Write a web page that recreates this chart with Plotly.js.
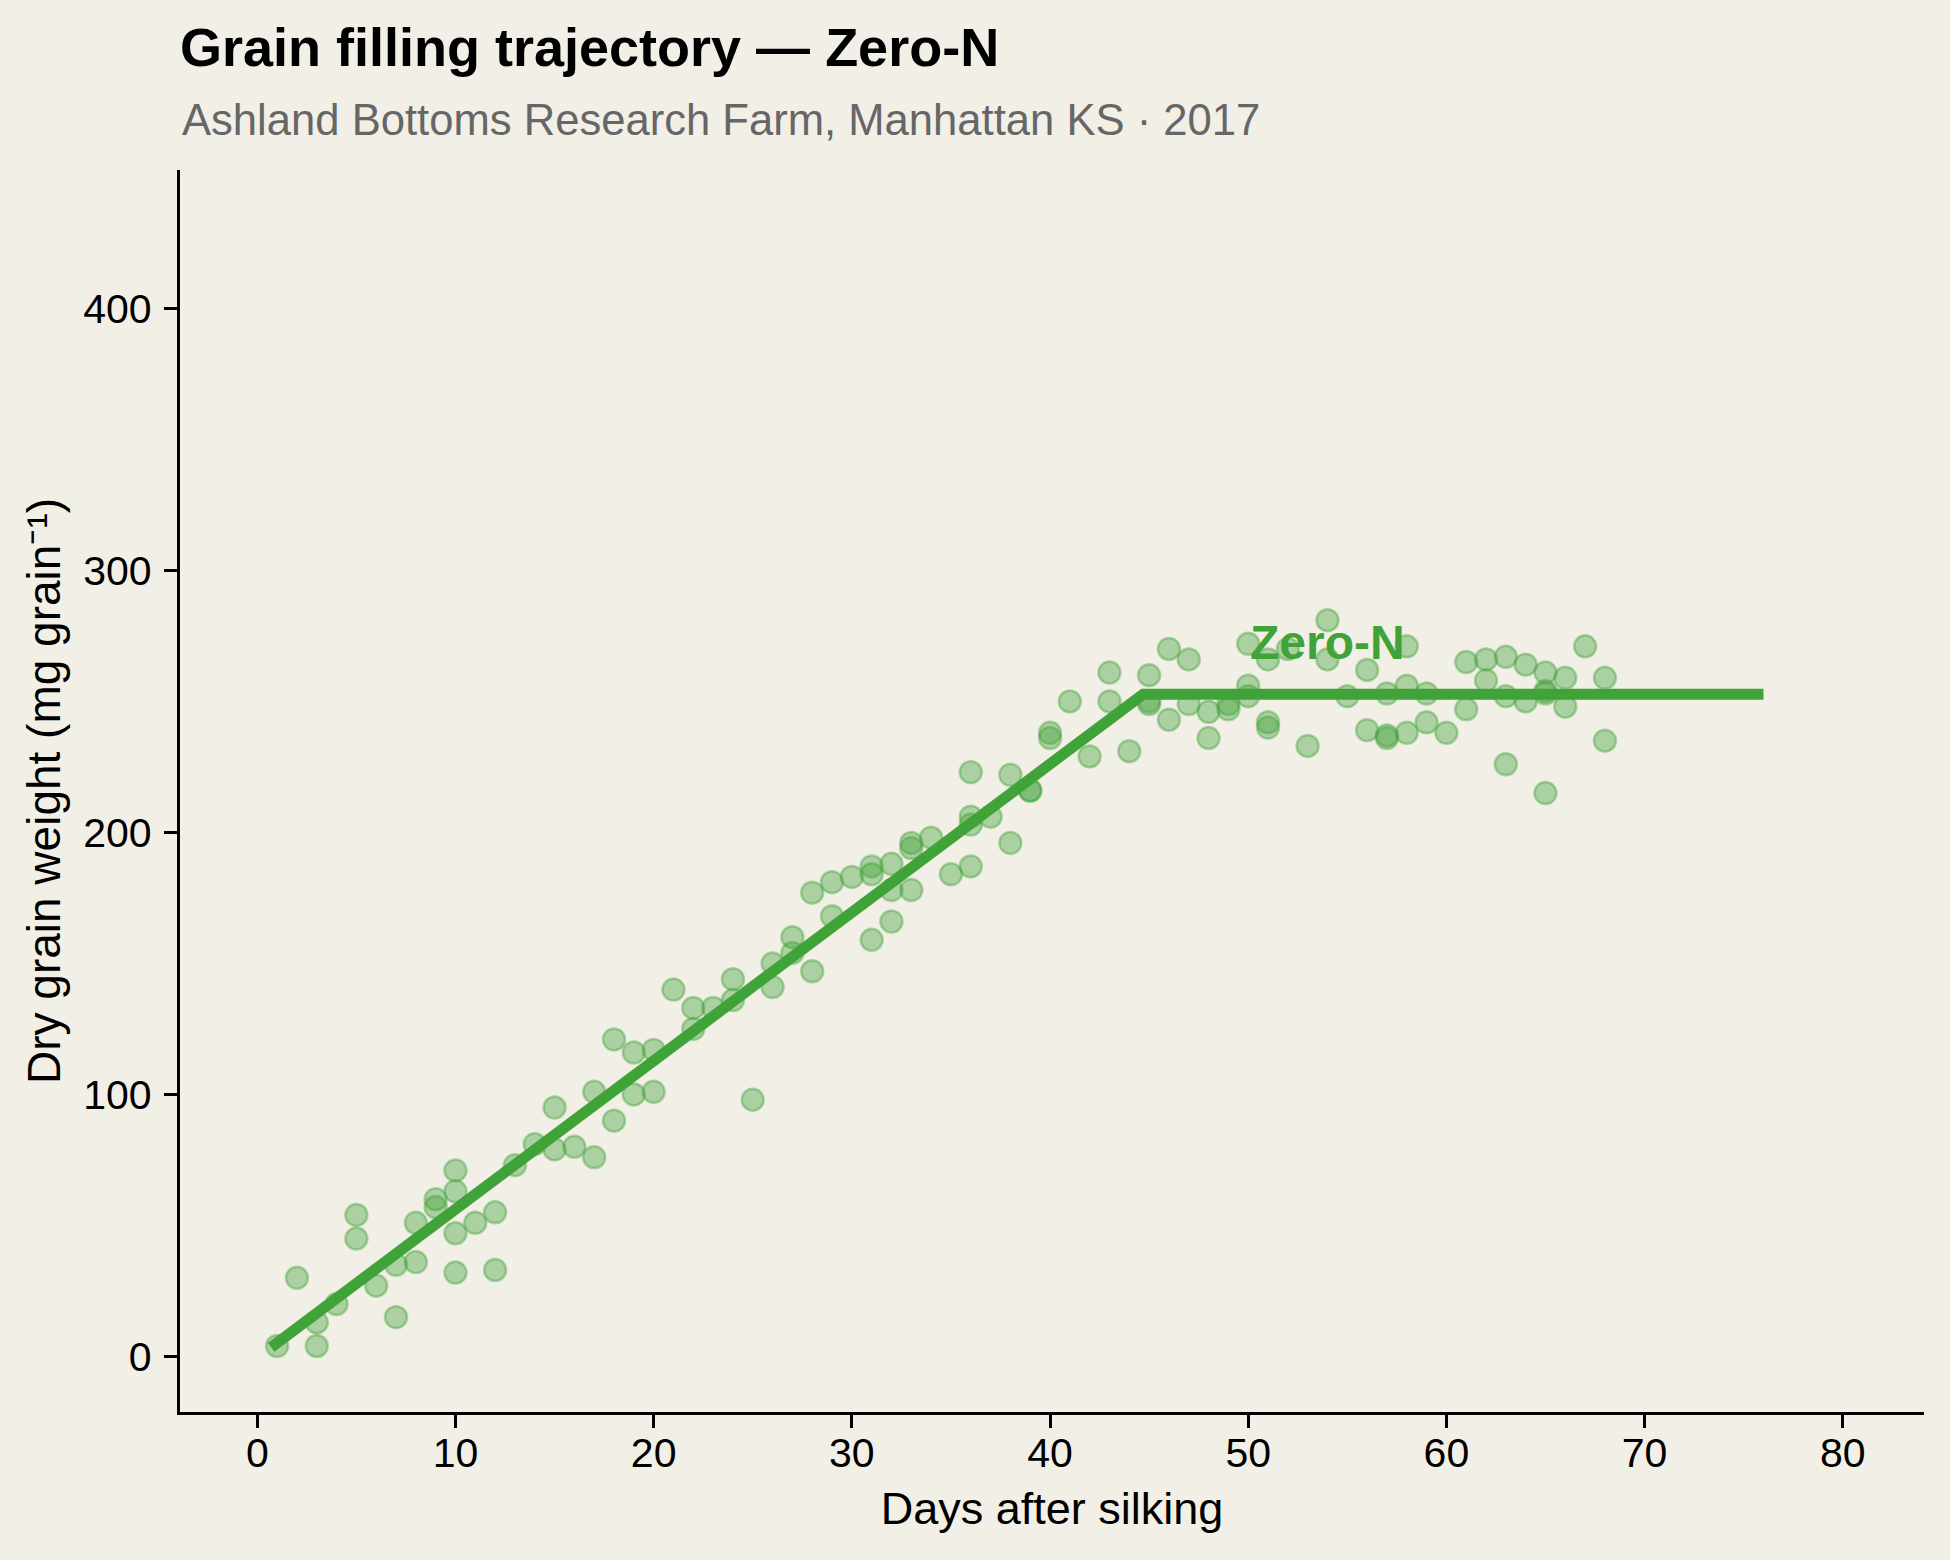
<!DOCTYPE html>
<html>
<head>
<meta charset="utf-8">
<script src="https://cdn.plot.ly/plotly-3.0.1.min.js"></script>
<style>
  html, body { margin: 0; padding: 0; background: #f2efe7; }
  #chart { width: 1950px; height: 1560px; }
</style>
</head>
<body>
<div id="chart"></div>
<script>
// observed grain weights, one entry per sampled ear
const days = [
    1, 2, 3, 3, 4, 5, 5, 6, 7, 7, 8, 8, 9, 9,
    10, 10, 10, 10, 11, 12, 12, 13, 14, 15, 15, 16, 17, 17,
    18, 18, 19, 19, 20, 20, 21, 22, 22, 23, 24, 24, 25,
    26, 26, 27, 27, 28, 28, 29, 29, 30, 31, 31, 31,
    32, 32, 32, 33, 33, 33, 34, 35, 36, 36, 36, 36, 37,
    38, 38, 39, 39, 40, 40, 41, 42, 43, 43, 44, 45, 45, 45,
    46, 46, 47, 47, 48, 48, 49, 49, 50, 50, 50, 51, 51, 51,
    52, 53, 54, 54, 55, 56, 56, 57, 57, 57, 58, 58, 58,
    59, 59, 60, 61, 61, 62, 62, 63, 63, 63, 64, 64,
    65, 65, 65, 65, 66, 66, 67, 68, 68
];
const weights = [
    4, 30, 4, 13, 20, 45, 54, 27, 15, 35, 36, 51, 57, 60,
    71, 63, 47, 32, 51, 55, 33, 73, 81, 95, 79, 80, 101, 76,
    121, 90, 116, 100, 117, 101, 140, 133, 125, 133, 144, 136, 98,
    150, 141, 160, 154, 177, 147, 181, 168, 183, 187, 184, 159,
    188, 178, 166, 196, 194, 178, 198, 184, 223, 206, 203, 187, 206,
    222, 196, 216, 216, 238, 236, 250, 229, 261, 250, 231, 260, 250, 249,
    270, 243, 266, 249, 246, 236, 249, 247, 272, 256, 252, 266, 242, 240,
    270, 233, 281, 266, 252, 262, 239, 253, 237, 236, 271, 256, 238,
    253, 242, 238, 265, 247, 266, 258, 267, 252, 226, 264, 250,
    261, 254, 253, 215, 259, 248, 271, 259, 235
];

// linear-plateau fit (knots)
const fitDays = [0.7, 44.7, 76];
const fitWeights = [3.5, 252.7, 252.7];

const xTicks = [0, 10, 20, 30, 40, 50, 60, 70, 80];
const yTicks = [0, 100, 200, 300, 400];

const green = '#40a33a';
const greenSoft = 'rgba(64, 163, 58, 0.4)';
const font = 'Liberation Sans, Arial, Helvetica, sans-serif';

const pointsTrace = {
    type: 'scatter',
    mode: 'markers',
    x: days,
    y: weights,
    marker: {
        size: 22,
        color: greenSoft,
        line: { color: greenSoft, width: 2.5 }
    },
    hoverinfo: 'x+y',
    showlegend: false
};

const fitTrace = {
    type: 'scatter',
    mode: 'lines',
    x: fitDays,
    y: fitWeights,
    line: { color: green, width: 11 },
    hoverinfo: 'skip',
    showlegend: false
};

const layout = {
    width: 1950,
    height: 1560,
    margin: { l: 180, r: 26, t: 170, b: 148 },
    paper_bgcolor: '#f2efe7',
    plot_bgcolor: '#f2efe7',
    font: { family: font, color: '#000000', size: 41 },
    title: {
        text: 'Grain filling trajectory — Zero-N',
        font: { family: font, size: 54, weight: 'bold', color: '#000000' },
        xref: 'container', x: 180 / 1950, xanchor: 'left',
        yref: 'container', y: 1 - 47.5 / 1560, yanchor: 'middle'
    },
    xaxis: {
        range: [-3.9, 84.1],
        tickvals: xTicks,
        ticks: 'outside', ticklen: 13, tickwidth: 3.3, tickcolor: '#000000',
        ticklabelstandoff: -10,
        showline: true, linecolor: '#000000', linewidth: 3.3,
        showgrid: false, zeroline: false,
        tickfont: { family: font, size: 41, color: '#000000' },
        title: {
            text: 'Days after silking',
            font: { family: font, size: 45, color: '#000000' },
            standoff: 18
        }
    },
    yaxis: {
        range: [-21.2, 452.8],
        tickvals: yTicks,
        ticks: 'outside', ticklen: 13, tickwidth: 3.3, tickcolor: '#000000',
        ticklabelstandoff: 4,
        showline: true, linecolor: '#000000', linewidth: 3.3,
        showgrid: false, zeroline: false,
        tickfont: { family: font, size: 41, color: '#000000' },
        title: {
            text: 'Dry grain weight (mg grain⁻¹)',
            font: { family: font, size: 46, color: '#000000' },
            standoff: 9
        }
    },
    annotations: [
        {
            text: 'Ashland Bottoms Research Farm, Manhattan KS · 2017',
            xref: 'paper', x: 0, xanchor: 'left',
            yref: 'paper', y: 1 + (170 - 120) / 1241, yanchor: 'middle',
            showarrow: false,
            font: { family: font, size: 43.6, color: '#666666' }
        },
        {
            text: 'Zero-N',
            x: 54, y: 272.5, xanchor: 'center', yanchor: 'middle',
            showarrow: false,
            font: { family: font, size: 48, weight: 'bold', color: green }
        }
    ]
};

Plotly.newPlot('chart', [pointsTrace, fitTrace], layout, { displayModeBar: false, responsive: false });
</script>
</body>
</html>
